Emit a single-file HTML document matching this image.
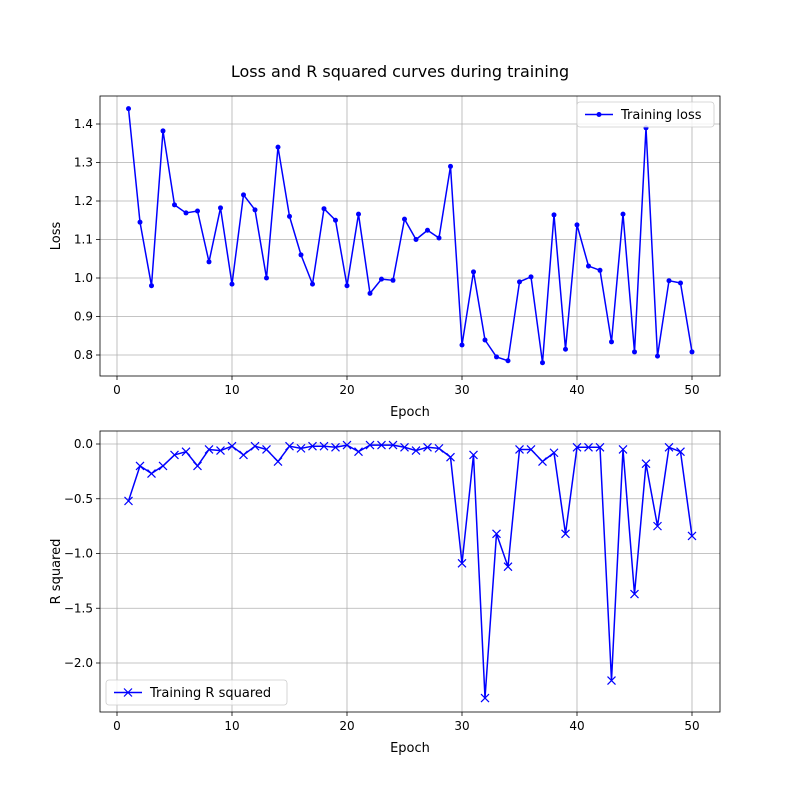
<!DOCTYPE html>
<html><head><meta charset="utf-8"><style>
html,body{margin:0;padding:0;background:#fff;}
svg{display:block;font-family:"DejaVu Sans","Liberation Sans",sans-serif;}
</style></head><body>
<svg id="chart" width="800" height="800" viewBox="0 0 800 800">
<text x="400" y="77" text-anchor="middle" font-size="16">Loss and R squared curves during training</text>
</svg>
<script>
const epochs = Array.from({length:50},(_,i)=>i+1);
const lossValues = [1.44,1.145,0.98,1.382,1.19,1.169,1.174,1.042,1.182,0.984,1.216,1.177,1.0,1.34,1.16,1.06,0.984,1.18,1.15,0.98,1.166,0.96,0.997,0.994,1.153,1.1,1.124,1.104,1.29,0.826,1.016,0.839,0.795,0.785,0.99,1.003,0.78,1.164,0.815,1.138,1.031,1.02,0.834,1.166,0.808,1.39,0.797,0.993,0.987,0.808];
const r2Values = [-0.52,-0.2,-0.27,-0.2,-0.1,-0.07,-0.2,-0.05,-0.06,-0.02,-0.1,-0.02,-0.05,-0.16,-0.02,-0.04,-0.02,-0.02,-0.03,-0.01,-0.07,-0.01,-0.01,-0.01,-0.03,-0.06,-0.03,-0.04,-0.12,-1.09,-0.1,-2.32,-0.82,-1.12,-0.05,-0.05,-0.16,-0.08,-0.82,-0.03,-0.03,-0.03,-2.16,-0.05,-1.37,-0.18,-0.75,-0.03,-0.07,-0.84];
const xTicks = [0,10,20,30,40,50];
const lossTicks = [0.8,0.9,1.0,1.1,1.2,1.3,1.4];
const r2Ticks = [-2.0,-1.5,-1.0,-0.5,0.0];

const svg = document.getElementById('chart');
const NS = 'http://www.w3.org/2000/svg';
function mk(tag, attrs, parent){const e=document.createElementNS(NS,tag);for(const k in attrs)e.setAttribute(k,attrs[k]);(parent||svg).appendChild(e);return e;}

function panel(cfg){
  const {top,bottom,yMin,yMax,yTicks,values,marker,ylabel,legend,legendPos,name,fmt} = cfg;
  const left=100,right=720;
  const sx = v => 117 + (v-0)*(692-117)/50;
  const sy = v => bottom - (v-yMin)/(yMax-yMin)*(bottom-top);
  const g = mk('g',{});
  
  
  xTicks.forEach(t=>{
    const l=mk('line',{x1:sx(t),x2:sx(t),y1:top,y2:bottom,stroke:'#b0b0b0','stroke-width':0.8},g);
    
    
    const tk=mk('line',{x1:sx(t),x2:sx(t),y1:bottom,y2:bottom+4,stroke:'#000','stroke-width':0.8},g);
    
    
    const tx=mk('text',{x:sx(t),y:bottom+18,'text-anchor':'middle','font-size':12},g);
    tx.textContent=t;
    
    
  });
  yTicks.forEach(t=>{
    const l=mk('line',{x1:left,x2:right,y1:sy(t),y2:sy(t),stroke:'#b0b0b0','stroke-width':0.8},g);
    
    
    const tk=mk('line',{x1:left-4,x2:left,y1:sy(t),y2:sy(t),stroke:'#000','stroke-width':0.8},g);
    
    
    const tx=mk('text',{x:left-7,y:sy(t)+4,'text-anchor':'end','font-size':12},g);
    tx.textContent=fmt(t);
    
    
  });
  const pts = values.map((v,i)=>sx(epochs[i]).toFixed(2)+','+sy(v).toFixed(2)).join(' ');
  const pl=mk('polyline',{points:pts,fill:'none',stroke:'#0000ff','stroke-width':1.5,'stroke-linejoin':'round'},g);
  
  
  values.forEach((v,i)=>{
    const x=sx(epochs[i]), y=sy(v);
    let m;
    if(marker==='dot'){ m=mk('circle',{cx:x,cy:y,r:2.5,fill:'#0000ff'},g); }
    else { m=mk('path',{d:`M${x-4},${y-4}L${x+4},${y+4}M${x-4},${y+4}L${x+4},${y-4}`,stroke:'#0000ff','stroke-width':1.2,fill:'none'},g); }
    
    
  });
  const fr=mk('rect',{x:left,y:top,width:right-left,height:bottom-top,fill:'none',stroke:'#000','stroke-width':0.8},g);
  
  
  const xl=mk('text',{x:(left+right)/2,y:bottom+40,'text-anchor':'middle','font-size':13},g);
  xl.textContent='Epoch';
  
  
  const cy=(top+bottom)/2;
  const yl=mk('text',{x:60,y:cy,'text-anchor':'middle','font-size':13,transform:`rotate(-90 60 ${cy})`},g);
  yl.textContent=ylabel;
  
  
  const [lx,ly,lw]=legendPos;
  const lg=mk('g',{},g);
  
  
  mk('rect',{x:lx,y:ly,width:lw,height:25,rx:3,fill:'#fff','fill-opacity':0.8,stroke:'#ccc','stroke-width':0.8},lg);
  mk('line',{x1:lx+8,x2:lx+36,y1:ly+12.5,y2:ly+12.5,stroke:'#0000ff','stroke-width':1.5},lg);
  const mx=lx+22,my=ly+12.5;
  if(marker==='dot') mk('circle',{cx:mx,cy:my,r:2.5,fill:'#0000ff'},lg);
  else mk('path',{d:`M${mx-4},${my-4}L${mx+4},${my+4}M${mx-4},${my+4}L${mx+4},${my-4}`,stroke:'#0000ff','stroke-width':1.2},lg);
  const lt=mk('text',{x:lx+44,y:ly+17,'font-size':13},lg);
  lt.textContent=legend;
  
  
}
panel({top:96,bottom:376,yMin:0.8-(376-355)/385,yMax:1.4+(124-96)/385,yTicks:lossTicks,values:lossValues,marker:'dot',ylabel:'Loss',legend:'Training loss',legendPos:[577,102,137],name:'loss',fmt:t=>t.toFixed(1)});
panel({top:431,bottom:712,yMin:-2.0-(712-663)/109.5,yMax:0+(444-431)/109.5,yTicks:r2Ticks,values:r2Values,marker:'x',ylabel:'R squared',legend:'Training R squared',legendPos:[106,680,181],name:'r-squared',fmt:t=>t===0?'0.0':(t<0?'\u2212':'')+Math.abs(t).toFixed(1)});
</script>
</body></html>
